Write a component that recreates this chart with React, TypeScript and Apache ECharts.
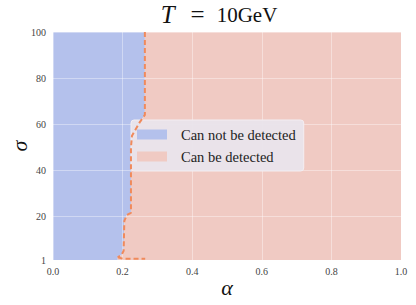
import { useEffect, useRef } from "react";
import * as echarts from "echarts";

// Boundary between the two regions (alpha as a function of sigma)
const boundaryAlpha = [0.264, 0.264, 0.25, 0.227, 0.224, 0.224, 0.212, 0.205, 0.203, 0.197, 0.186];
const boundarySigma = [100, 64, 61, 55, 50, 21.5, 20.5, 18, 5, 3.2, 2.2];
// Bottom hook of the dashed contour
const hookAlpha = [0.2, 0.265];
const hookSigma = [1.6, 1.5];

const xTicks = [0, 0.2, 0.4, 0.6, 0.8, 1.0];
const yTicks = [1, 20, 40, 60, 80, 100];
const seriesNames = ["Can not be detected", "Can be detected"];
const titleParts = ["T", "=", "10GeV"];

const BLUE = "#B4C1EC";
const PINK = "#F0CAC3";
const LINE = "#F08A5C";
const SERIF = "Liberation Serif, serif";

export default function App() {
  const ref = useRef<HTMLDivElement>(null);
  useEffect(() => {
    if (!ref.current) return;
    const chart = echarts.init(ref.current, null, { renderer: "svg" });

    const boundary = boundaryAlpha.map((a, i) => [a, boundarySigma[i]]);
    const hook = hookAlpha.map((a, i) => [a, hookSigma[i]]);
    const last = boundary[boundary.length - 1];
    const bluePoly = [[0, 1], [0, 100], ...boundary, [last[0], 1]];
    const pinkPoly = [...boundary, [last[0], 1], [1, 1], [1, 100]];

    const polySeries = (name: string, color: string, poly: number[][]) => ({
      name,
      type: "custom",
      z: 1,
      clip: true,
      itemStyle: { color },
      data: poly,
      renderItem: (params: any, api: any) => {
        if (params.dataIndex !== 0) return null;
        const pts = poly.map((p) => api.coord(p));
        return {
          type: "polygon",
          shape: { points: pts },
          style: { fill: color },
        };
      },
    });

    chart.setOption({
      animation: false,
      title: {
        text: `{i|${titleParts[0]}}{eq|${titleParts[1]}}{n|${titleParts[2]}}`,
        left: 214,
        textAlign: "center",
        top: -3,
        textStyle: {
          fontFamily: SERIF,
          fontSize: 21,
          fontWeight: "normal",
          color: "#111",
          rich: {
            i: { fontFamily: SERIF, fontSize: 25, fontStyle: "italic", color: "#111" },
            eq: { fontFamily: SERIF, fontSize: 25, color: "#111", padding: [0, 12, 0, 16] },
            n: { fontFamily: SERIF, fontSize: 21, color: "#111" },
          },
        },
      },
      grid: { left: 53, right: 15, top: 32, bottom: 45, outerBoundsMode: "none", containLabel: false },
      legend: {
        data: seriesNames.map((n, i) => ({
          name: n,
          icon: "rect",
          itemStyle: { color: i === 0 ? BLUE : PINK },
        })),
        orient: "vertical",
        left: 131,
        top: 120,
        padding: [7, 8, 7, 6],
        itemWidth: 30,
        itemHeight: 10,
        itemGap: 7,
        backgroundColor: "rgba(233,228,235,0.96)",
        borderColor: "#F3EEF2",
        borderWidth: 1,
        borderRadius: 3,
        textStyle: {
          fontFamily: SERIF,
          fontSize: 14.5,
          color: "#222",
          lineHeight: 14,
          padding: [0, 0, 0, 9],
        },
        selectedMode: false,
      },
      xAxis: {
        type: "value",
        min: 0,
        max: 1,
        z: 3,
        name: "α",
        nameLocation: "middle",
        nameGap: 16,
        nameMoveOverlap: false,
        nameTextStyle: { fontFamily: SERIF, fontSize: 22, fontStyle: "italic", color: "#111" },
        axisLine: { show: false },
        axisTick: { show: false, customValues: xTicks },
        axisLabel: {
          customValues: xTicks,
          formatter: (v: number) => v.toFixed(1),
          fontFamily: SERIF,
          fontSize: 10,
          color: "#444",
          margin: 6,
        },
        splitLine: { show: true, lineStyle: { color: "rgba(255,255,255,0.38)", width: 1 } },
      },
      yAxis: {
        type: "value",
        min: 1,
        max: 100,
        z: 3,
        name: "σ",
        nameLocation: "middle",
        nameGap: 23,
        nameMoveOverlap: false,
        nameRotate: 90,
        nameTextStyle: { fontFamily: SERIF, fontSize: 22, fontStyle: "italic", color: "#111" },
        axisLine: { show: false },
        axisTick: { show: false, customValues: yTicks },
        axisLabel: {
          customValues: yTicks,
          fontFamily: SERIF,
          fontSize: 10,
          color: "#444",
          margin: 7,
        },
        splitLine: { show: true, lineStyle: { color: "rgba(255,255,255,0.38)", width: 1 } },
      },
      series: [
        polySeries(seriesNames[0], BLUE, bluePoly),
        polySeries(seriesNames[1], PINK, pinkPoly),
        {
          type: "line",
          z: 5,
          data: boundary,
          symbol: "none",
          lineStyle: { color: LINE, width: 2, type: [5, 3] },
          silent: true,
        },
        {
          type: "line",
          z: 5,
          data: [boundary[boundary.length - 1], ...hook],
          symbol: "none",
          lineStyle: { color: LINE, width: 2, type: [5, 3] },
          silent: true,
        },
      ],
    });
    return () => chart.dispose();
  }, []);
  return (
    <div
      ref={ref}
      style={{ position: "absolute", left: 0, top: 0, width: 416, height: 305 }}
    />
  );
}
